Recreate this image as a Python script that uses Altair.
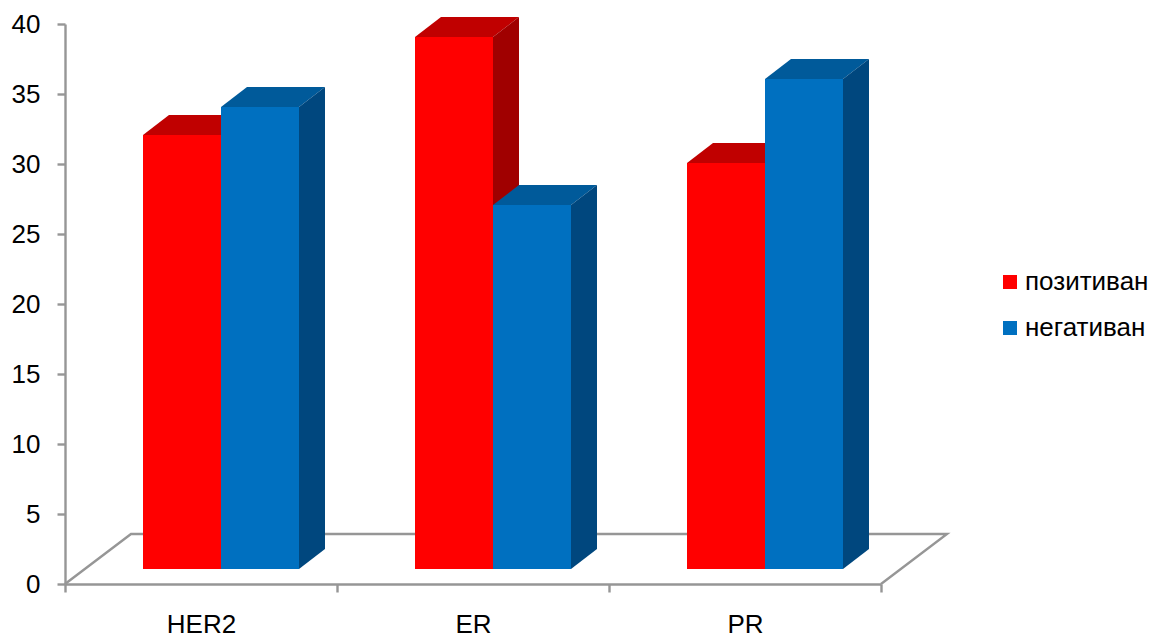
import altair as alt
import pandas as pd

# Receptor status counts per marker
categories = ["HER2", "ER", "PR"]
series_names = ["позитиван", "негативан"]
positive = [31, 38, 29]
negative = [33, 26, 35]

# Face colours per series: front, top, side
front_colors = ["#FF0000", "#0070C0"]
top_colors = ["#C00000", "#005A9A"]
side_colors = ["#A00000", "#00477E"]

# 3D box geometry in axis units (x: one unit per category, y: axis value)
PLOT_W, PLOT_H = 816, 560
X_UNIT = PLOT_W / len(categories)
Y_UNIT = PLOT_H / 40
bar_start = 78 / X_UNIT
bar_width = 78 / X_UNIT
depth_x = 26 / X_UNIT
depth_y = 20 / Y_UNIT
lift = 15 / Y_UNIT
floor_dx = 66 / X_UNIT
floor_dy = 50 / Y_UNIT

x_quant = alt.Scale(domain=[0, len(categories)])
y_scale = alt.Scale(domain=[0, 40])
color_scale = alt.Scale(domain=series_names, range=front_colors)
legend = alt.Legend(
    orient="none", legendX=932, legendY=245, title=None,
    symbolType="square", symbolSize=196, symbolStrokeWidth=0,
    labelFont="Liberation Sans", labelFontSize=26, labelColor="#000000",
    labelOffset=2, rowPadding=20, padding=0,
)


def poly_area(rows, color):
    df = pd.DataFrame(rows, columns=["box", "px", "lo", "hi"])
    return alt.Chart(df).mark_area(color=color, orient="vertical", interpolate="linear").encode(
        x=alt.X("px:Q", scale=x_quant, axis=None),
        y=alt.Y("lo:Q", scale=y_scale, stack=None),
        y2="hi:Q",
        detail="box:N",
    )


def box_layers(s, values):
    left = [i + bar_start + s * bar_width for i in range(len(values))]
    top_rows, side_rows = [], []
    for i, (l, v) in enumerate(zip(left, values)):
        r = l + bar_width
        t = v + lift
        top_rows += [
            (i, l, t, t),
            (i, l + depth_x, t, t + depth_y),
            (i, r, t, t + depth_y),
            (i, r + depth_x, t + depth_y, t + depth_y),
        ]
        side_rows += [
            (i, r, lift, t),
            (i, r + depth_x, lift + depth_y, t + depth_y),
        ]
    front_df = pd.DataFrame({
        "series": series_names[s],
        "l": left,
        "r": [l + bar_width for l in left],
        "base": lift,
        "t": [v + lift for v in values],
    })
    front = alt.Chart(front_df).mark_rect().encode(
        x=alt.X("l:Q", scale=x_quant, axis=None),
        x2="r:Q",
        y=alt.Y("t:Q", scale=y_scale),
        y2="base:Q",
        color=alt.Color("series:N", scale=color_scale, legend=legend),
    )
    return [poly_area(top_rows, top_colors[s]), poly_area(side_rows, side_colors[s]), front]


# Floor outline drawn behind the boxes
floor_df = pd.DataFrame({
    "px": [0, floor_dx, len(categories) + floor_dx, len(categories)],
    "py": [0, floor_dy, floor_dy, 0],
    "o": [0, 1, 2, 3],
})
floor = alt.Chart(floor_df).mark_line(color="#969696", strokeWidth=2.4).encode(
    x=alt.X("px:Q", scale=x_quant, axis=None),
    y=alt.Y("py:Q", scale=y_scale),
    order="o:Q",
)

# Invisible layer that carries the category axis and the value axis
axes = alt.Chart(pd.DataFrame({"cat": categories, "v": 0})).mark_bar(opacity=0).encode(
    x=alt.X(
        "cat:N", sort=categories, title=None,
        scale=alt.Scale(domain=categories, paddingInner=0, paddingOuter=0),
        axis=alt.Axis(
            tickBand="extent", labelAngle=0, labelFont="Liberation Sans", labelFontSize=26,
            labelColor="#000000", labelPadding=19, tickSize=8, tickWidth=2.4, tickColor="#969696",
            domainColor="#969696", domainWidth=2.4, grid=False,
        ),
    ),
    y=alt.Y(
        "v:Q", scale=y_scale, title=None,
        axis=alt.Axis(
            values=list(range(0, 41, 5)), labelFont="Liberation Sans", labelFontSize=26,
            labelColor="#000000", labelPadding=17, tickSize=8, tickWidth=2.4, tickColor="#969696",
            domainColor="#969696", domainWidth=2.4, grid=False,
        ),
    ),
)

layers = [axes, floor] + box_layers(0, positive) + box_layers(1, negative)

chart = alt.layer(*layers).resolve_scale(x="independent").properties(
    width=PLOT_W,
    height=PLOT_H,
    padding={"left": 65, "top": 24, "right": 270, "bottom": 54},
    autosize=alt.AutoSizeParams(type="none"),
    background="#FFFFFF",
).configure_view(stroke=None)

chart.save("out.html", embed_options={"renderer": "svg", "actions": False})
